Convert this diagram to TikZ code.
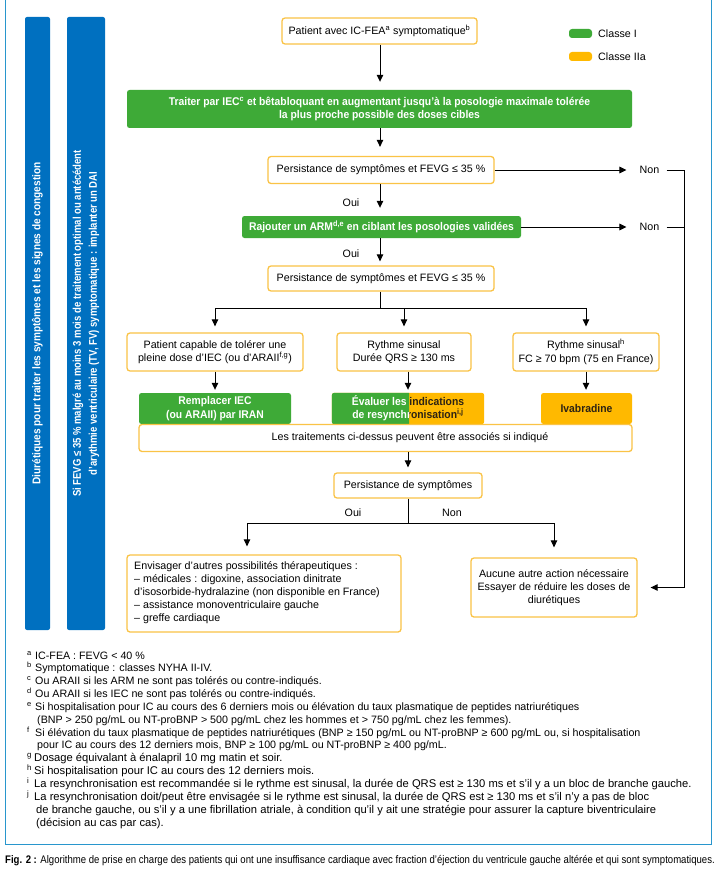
\documentclass[tikz,border=0pt]{standalone}
\usepackage{fontspec}
\setmainfont{Liberation Sans}
\newfontfamily\cond[FakeStretch=0.925]{Liberation Sans}
\newfontfamily\condbar[FakeStretch=0.9]{Liberation Sans}
\newfontfamily\condbarb[FakeStretch=0.85]{Liberation Sans}
\newfontfamily\condcap[FakeStretch=0.87]{Liberation Sans}
\usetikzlibrary{arrows.meta,calc}
\definecolor{frameblue}{RGB}{40,150,205}
\definecolor{barblue}{RGB}{0,112,192}
\definecolor{cgreen}{RGB}{62,170,55}
\definecolor{cyellow}{RGB}{255,185,0}
\definecolor{cborder}{RGB}{250,195,70}
\definecolor{darktxt}{RGB}{45,35,20}
\begin{document}
\begin{tikzpicture}[x=1pt,y=-1pt,
  obox/.style={draw=cborder, line width=1.3pt, rounded corners=3pt, fill=white, align=center, inner sep=0pt, font=\fontsize{10.7}{13.3}\selectfont},
  gbox/.style={fill=cgreen, rounded corners=2.5pt, align=center, inner sep=0pt, text=white, font=\cond\bfseries\fontsize{11.2}{13.3}\selectfont},
  ybox/.style={gbox, fill=cyellow, text=darktxt},
  arr/.style={-{Triangle[width=6.5pt,length=7pt]}, line width=1pt},
  ln/.style={line width=1pt},
  lbl/.style={inner sep=0pt, font=\fontsize{10.7}{13}\selectfont},
  bartext/.style={fill=barblue, rounded corners=2pt, rotate=90, text=white, align=center, inner sep=0pt, font=\condbar\bfseries\fontsize{11.2}{15}\selectfont},
  note/.style={anchor=base west, inner sep=0pt, font=\fontsize{10.7}{12}\selectfont},
  noteb/.style={note, font=\fontsize{11.2}{12}\selectfont},
]
\useasboundingbox (0,0) rectangle (716,872);
\clip (0,0) rectangle (716,872);
\fill[white] (0,0) rectangle (716,872);
\draw[frameblue, line width=1.3pt] (5.5,-5) rectangle (711.5,844.5);

% side bars
\node[bartext, minimum width=613pt, minimum height=25pt] (bar1) at (37.5,323.5)
  {Diurétiques pour traiter les symptômes et les signes de congestion};
\node[bartext, minimum width=613pt, minimum height=38pt, font=\condbarb\bfseries\fontsize{11.2}{16}\selectfont] (bar2) at (86,323.5)
  {Si FEVG ≤ 35 \% malgré au moins 3 mois de traitement optimal ou antécédent\\d’arythmie ventriculaire (TV, FV) symptomatique : implanter un DAI};

% legend
\node[fill=cgreen, rounded corners=3pt, minimum width=23pt, minimum height=9pt, inner sep=0pt] (lg1) at (580.5,33.5) {};
\node[lbl, anchor=west] (lg1t) at (598,33.5) {Classe I};
\node[fill=cyellow, rounded corners=3pt, minimum width=23pt, minimum height=9pt, inner sep=0pt] (lg2) at (580.5,56.5) {};
\node[lbl, anchor=west] (lg2t) at (598,56.5) {Classe IIa};

% main column
\coordinate (cx) at (380,0);
\node[obox, minimum width=195pt, minimum height=26pt] (n1) at (379.5,31)
  {Patient avec IC-FEA\textsuperscript{a} symptomatique\textsuperscript{b}};
\node[gbox, minimum width=505pt, minimum height=38pt] (n2) at (379.5,109)
  {Traiter par IEC\textsuperscript{c} et bêtabloquant en augmentant jusqu’à la posologie maximale tolérée\\la plus proche possible des doses cibles};
\node[obox, minimum width=226pt, minimum height=27pt] (n3) at (381,170)
  {Persistance de symptômes et FEVG ≤ 35 \%};
\node[gbox, minimum width=279pt, minimum height=22pt] (n4) at (381.5,227)
  {Rajouter un ARM\textsuperscript{d,e} en ciblant les posologies validées};
\node[obox, minimum width=226pt, minimum height=25pt] (n5) at (381,278.5)
  {Persistance de symptômes et FEVG ≤ 35 \%};

\node[lbl] (non1) at (649.5,170) {Non};
\node[lbl] (non2) at (649.5,227) {Non};
\node[lbl] (oui1) at (351,203) {Oui};
\node[lbl] (oui2) at (351,254) {Oui};

\draw[arr, shorten >=8pt] (n1.south -| cx) -- (n2.north -| cx);
\draw[arr, shorten >=9pt] (n2.south -| cx) -- (n3.north -| cx);
\draw[arr, shorten >=8pt] (n3.south -| cx) -- (n4.north -| cx);
\draw[arr, shorten >=4pt] (n4.south -| cx) -- (n5.north -| cx);
\draw[arr, shorten >=13pt] (n3.east) -- (non1.west);
\draw[arr, shorten >=13pt] (n4.east) -- (non2.west);

% three branches
\node[obox, minimum width=176pt, minimum height=38pt] (n6) at (215,352)
  {Patient capable de tolérer une\\pleine dose d’IEC (ou d’ARAII\textsuperscript{f,g})};
\node[obox, minimum width=134pt, minimum height=38pt] (n7) at (404,352)
  {Rythme sinusal\\Durée QRS ≥ 130 ms};
\node[obox, minimum width=146pt, minimum height=38pt] (n8) at (586,352)
  {Rythme sinusal\textsuperscript{h}\\FC ≥ 70 bpm (75 en France)};
\coordinate (br1) at (380,308);
\draw[ln] (n5.south -| cx) -- (br1);
\draw[arr, shorten >=6pt] (br1) -| (n6.north);
\draw[arr, shorten >=6pt] (n7.north |- br1) -- (n7.north);
\draw[arr, shorten >=6pt] (br1) -| (n8.north);

% treatments
\node[gbox, minimum width=152pt, minimum height=31pt] (n9) at (215,408.5)
  {Remplacer IEC\\(ou ARAII) par IRAN};
\node[inner sep=0pt, minimum width=152pt, minimum height=31pt] (n10) at (408,408.5) {};
\coordinate (split) at (409,0);
\fill[cyellow, rounded corners=2.5pt] (n10.south west) rectangle (n10.north east);
\begin{scope}
  \clip (n10.south west) rectangle (n10.north -| split);
  \fill[cgreen, rounded corners=2.5pt] (n10.south west) rectangle (n10.north east);
  \node[align=center, inner sep=0pt, text=white, font=\cond\bfseries\fontsize{11.2}{13.3}\selectfont] (n10a) at (n10.center)
    {Évaluer les indications\\de resynchronisation\textsuperscript{i,j}};
\end{scope}
\begin{scope}
  \clip (n10.south east) rectangle (n10.north -| split);
  \node[align=center, inner sep=0pt, text=darktxt, font=\cond\bfseries\fontsize{11.2}{13.3}\selectfont] (n10b) at (n10.center)
    {Évaluer les indications\\de resynchronisation\textsuperscript{i,j}};
\end{scope}
\node[ybox, minimum width=91pt, minimum height=31pt] (n11) at (586.5,408.5) {Ivabradine};
\draw[arr, shorten >=3pt] (n6.south) -- (n9.north);
\draw[arr, shorten >=3pt] (n10.north |- n7.south) -- (n10.north);
\draw[arr, shorten >=3pt] (n8.south) -- (n8.south |- n11.north);

\node[obox, minimum width=493pt, minimum height=27pt] (n12) at (385.5,438) {};
\node[lbl] (n12t) at (410,438) {Les traitements ci-dessus peuvent être associés si indiqué};

\node[obox, minimum width=148pt, minimum height=25pt] (n13) at (408,485.5) {Persistance de symptômes};
\draw[arr, shorten >=5pt] (n13.north |- n12.south) -- (n13.north);

% final
\node[obox, minimum width=274pt, minimum height=77pt] (n14) at (264,593.5) {};
\node[anchor=west, align=left, inner sep=0pt, font=\fontsize{10.7}{13}\selectfont] (n14t) at (134,592.5)
  {Envisager d’autres possibilités thérapeutiques :\\
   – médicales : digoxine, association dinitrate\\
   d’isosorbide-hydralazine (non disponible en France)\\
   – assistance monoventriculaire gauche\\
   – greffe cardiaque};
\node[obox, minimum width=166pt, minimum height=59pt] (n15) at (554,587.5)
  {Aucune autre action nécessaire\\Essayer de réduire les doses de\\diurétiques};

\coordinate (br2) at (408,523);
\draw[ln] (n13.south) -- (br2);
\draw[arr, shorten >=8pt] (br2) -| ([xshift=-17pt]n14.north);
\draw[arr, shorten >=10pt] (br2) -| (n15.north);
\node[lbl] (oui3) at (353,513) {Oui};
\node[lbl] (non3) at (452,513) {Non};

% feedback
\coordinate (fb) at (684,170);
\draw[arr, shorten <=7pt, shorten >=13pt] (non1.east) -- (fb) |- (n15.east);
\draw[ln, shorten <=7pt] (non2.east) -- (non2.east -| fb);

% footnotes
\foreach \i/\m/\t in {
 0/a/{IC-FEA : FEVG < 40 \%},
 1/b/{Symptomatique : classes NYHA II-IV.},
 2/c/{Ou ARAII si les ARM ne sont pas tolérés ou contre-indiqués.},
 3/d/{Ou ARAII si les IEC ne sont pas tolérés ou contre-indiqués.},
 4/e/{Si hospitalisation pour IC au cours des 6 derniers mois ou élévation du taux plasmatique de peptides natriurétiques},
 6/f/{Si élévation du taux plasmatique de peptides natriurétiques (BNP ≥ 150 pg/mL ou NT-proBNP ≥ 600 pg/mL ou, si hospitalisation}}
{
 \node[note] (fm\i) at (27,659+12.85*\i) {\textsuperscript{\m}};
 \node[note] (ft\i) at (35,659+12.85*\i) {\t};
}
\foreach \i/\m/\t in {
 8/g/{Dosage équivalant à énalapril 10 mg matin et soir.},
 9/h/{Si hospitalisation pour IC au cours des 12 derniers mois.},
 10/i/{La resynchronisation est recommandée si le rythme est sinusal, la durée de QRS est ≥ 130 ms et s’il y a un bloc de branche gauche.},
 11/j/{La resynchronisation doit/peut être envisagée si le rythme est sinusal, la durée de QRS est ≥ 130 ms et s’il n’y a pas de bloc}}
{
 \node[noteb] (fm\i) at (27,659+12.85*\i) {\textsuperscript{\m}};
 \node[noteb] (ft\i) at (34,659+12.85*\i) {\t};
}
\foreach \i/\t in {
 5/{(BNP > 250 pg/mL ou NT-proBNP > 500 pg/mL chez les hommes et > 750 pg/mL chez les femmes).},
 7/{pour IC au cours des 12 derniers mois, BNP ≥ 100 pg/mL ou NT-proBNP ≥ 400 pg/mL.}}
{
 \node[note] (ft\i) at (37,659+12.85*\i) {\t};
}
\foreach \i/\t in {
 12/{de branche gauche, ou s’il y a une fibrillation atriale, à condition qu’il y ait une stratégie pour assurer la capture biventriculaire},
 13/{(décision au cas par cas).}}
{
 \node[noteb] (ft\i) at (36,659+12.85*\i) {\t};
}

% caption
\node[anchor=base west, inner sep=0pt, font=\condcap\fontsize{11}{12}\selectfont] (cap) at (5,863)
  {\textbf{Fig. 2 :} Algorithme de prise en charge des patients qui ont une insuffisance cardiaque avec fraction d’éjection du ventricule gauche altérée et qui sont symptomatiques.};
\end{tikzpicture}
\end{document}
